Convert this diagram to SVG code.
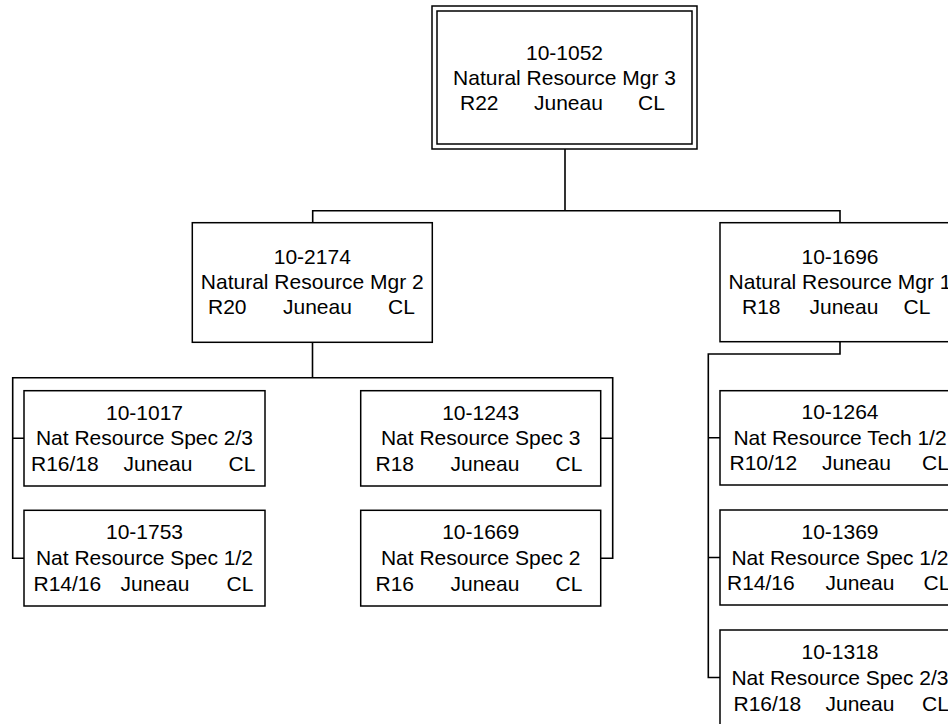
<svg xmlns="http://www.w3.org/2000/svg" width="948" height="724" viewBox="0 0 948 724">
<style>
.box{fill:#fff;stroke:#000;stroke-width:1.5}
.conn{fill:none;stroke:#000;stroke-width:1.6}
text{font-family:"Liberation Sans",Arial,sans-serif;font-size:21px;fill:#000}
.c{text-anchor:middle}
</style>
<rect width="948" height="724" fill="#fff"/>
<g id="connectors">
<path class="conn" d="M565,149 V210.7 M312.7,222.7 V210.7 H840 V222.7"/>
<path class="conn" d="M312.5,342.3 V377.7 M24,438.3 H12.7 V377.7 H612.7 V558.2 H600.7 M12.7,438.3 V558.2 H24 M600.7,438.3 H612.7"/>
<path class="conn" d="M840,341.7 V354 H708.3 V677.5 H720 M708.3,437.8 H720 M708.3,557.5 H720"/>
</g>
<g id="n1052">
<rect class="box" x="432" y="6" width="265" height="143"/>
<rect class="box" x="437" y="11" width="255" height="133"/>
<text class="c" x="564.5" y="59.5">10-1052</text>
<text class="c" x="564.5" y="84.5">Natural Resource Mgr 3</text>
<text y="109.5"><tspan x="460">R22</tspan><tspan x="534">Juneau</tspan><tspan x="638">CL</tspan></text>
</g>
<g id="n2174">
<rect class="box" x="192.3" y="222.7" width="240" height="119.6"/>
<text class="c" x="312.3" y="264">10-2174</text>
<text class="c" x="312.3" y="289">Natural Resource Mgr 2</text>
<text y="314"><tspan x="208">R20</tspan><tspan x="283">Juneau</tspan><tspan x="388">CL</tspan></text>
</g>
<g id="n1696">
<rect class="box" x="720" y="222.7" width="240" height="119"/>
<text class="c" x="840" y="264">10-1696</text>
<text class="c" x="840" y="289">Natural Resource Mgr 1</text>
<text y="314"><tspan x="742">R18</tspan><tspan x="809.5">Juneau</tspan><tspan x="903.5">CL</tspan></text>
</g>
<g id="n1017">
<rect class="box" x="24" y="390.7" width="241" height="95.3"/>
<text class="c" x="144.5" y="419.5">10-1017</text>
<text class="c" x="144.5" y="445">Nat Resource Spec 2/3</text>
<text y="470.5"><tspan x="31">R16/18</tspan><tspan x="123.5">Juneau</tspan><tspan x="228.5">CL</tspan></text>
</g>
<g id="n1753">
<rect class="box" x="24" y="510.3" width="241" height="95.7"/>
<text class="c" x="144.5" y="539">10-1753</text>
<text class="c" x="144.5" y="565">Nat Resource Spec 1/2</text>
<text y="590.5"><tspan x="33.5">R14/16</tspan><tspan x="120.5">Juneau</tspan><tspan x="226.5">CL</tspan></text>
</g>
<g id="n1243">
<rect class="box" x="360.7" y="390.7" width="240" height="95.3"/>
<text class="c" x="480.7" y="419.5">10-1243</text>
<text class="c" x="480.7" y="445">Nat Resource Spec 3</text>
<text y="470.5"><tspan x="375.5">R18</tspan><tspan x="450.5">Juneau</tspan><tspan x="555.5">CL</tspan></text>
</g>
<g id="n1669">
<rect class="box" x="360.7" y="510.3" width="240" height="95.7"/>
<text class="c" x="480.7" y="539">10-1669</text>
<text class="c" x="480.7" y="565">Nat Resource Spec 2</text>
<text y="590.5"><tspan x="375.5">R16</tspan><tspan x="450.5">Juneau</tspan><tspan x="555.5">CL</tspan></text>
</g>
<g id="n1264">
<rect class="box" x="720" y="390.7" width="240" height="94.3"/>
<text class="c" x="840" y="419">10-1264</text>
<text class="c" x="840" y="444.5">Nat Resource Tech 1/2</text>
<text y="470"><tspan x="729.5">R10/12</tspan><tspan x="822">Juneau</tspan><tspan x="922">CL</tspan></text>
</g>
<g id="n1369">
<rect class="box" x="720" y="510" width="240" height="95"/>
<text class="c" x="840" y="539">10-1369</text>
<text class="c" x="840" y="564.5">Nat Resource Spec 1/2</text>
<text y="590"><tspan x="727">R14/16</tspan><tspan x="825.5">Juneau</tspan><tspan x="923.5">CL</tspan></text>
</g>
<g id="n1318">
<rect class="box" x="720" y="630" width="240" height="95"/>
<text class="c" x="840" y="659">10-1318</text>
<text class="c" x="840" y="685">Nat Resource Spec 2/3</text>
<text y="710.5"><tspan x="733.5">R16/18</tspan><tspan x="825.5">Juneau</tspan><tspan x="922">CL</tspan></text>
</g>
</svg>
